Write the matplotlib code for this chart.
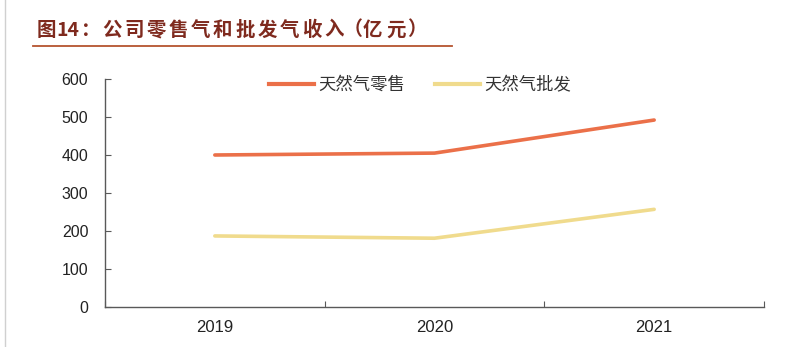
import matplotlib
matplotlib.use("Agg")
import matplotlib.pyplot as plt
from matplotlib.lines import Line2D

years = ["2019", "2020", "2021"]
retail = [400, 405, 492]
wholesale = [187, 181, 257]
series_names = ["天然气零售", "天然气批发"]
yticks = [0, 100, 200, 300, 400, 500, 600]
title = "图14：公司零售气和批发气收入（亿元）"

W, H = 801, 347
fig = plt.figure(figsize=(W / 100, H / 100), dpi=100)
plt.rcParams['font.family'] = ['Noto Sans CJK SC', 'DejaVu Sans']

left, right, top, bottom = 105, 764, 79, 307
ax = fig.add_axes([left / W, 1 - bottom / H, (right - left) / W, (bottom - top) / H])

x = [0.5, 1.5, 2.5]
ax.plot(x, retail, color="#EB7049", lw=2.6, solid_capstyle="round")
ax.plot(x, wholesale, color="#F0DB8D", lw=2.6, solid_capstyle="round")

ax.set_xlim(0, 3)
ax.set_ylim(0, 600)
ax.set_yticks(yticks)
ax.set_yticklabels([str(v) for v in yticks], family="Liberation Sans", fontsize=11.5, color="#222222")
ax.set_xticks([0, 1, 2, 3])
ax.set_xticklabels([])
ax.set_xticks(x, minor=True)
ax.set_xticklabels(years, minor=True, family="Liberation Sans", fontsize=12, color="#222222")
ax.tick_params(axis="x", which="minor", length=0, pad=9)
ax.tick_params(axis="x", which="major", direction="in", length=4, color="#595959")
ax.tick_params(axis="y", direction="in", length=4, color="#595959", pad=12)
for s in ["top", "right"]:
    ax.spines[s].set_visible(False)
for s in ["left", "bottom"]:
    ax.spines[s].set_color("#595959")
    ax.spines[s].set_linewidth(1.0)

handles = [Line2D([], [], color="#EB7049", lw=3), Line2D([], [], color="#F0DB8D", lw=3)]
leg = fig.legend(handles, series_names, loc="center left", bbox_to_anchor=(269 / W, 1 - 85 / H),
                 ncol=2, frameon=False, fontsize=12.5, handlelength=2.6, handletextpad=0.25,
                 columnspacing=1.7, borderpad=0, borderaxespad=0)
for t in leg.get_texts():
    t.set_color("#333333")

# title, placed piece by piece to reproduce its letter spacing
tstyle = dict(fontsize=14, fontweight="bold", color="#7F2A1E", va="center", ha="left")
ty = 1 - 30 / H
fig.text(37 / W, ty, title[0], **tstyle)              # 图
fig.text(56 / W, ty, title[1:3], **tstyle)            # 14
fig.text(81 / W, ty, title[3], **tstyle)              # ：
pitch = 22.2
x0 = 102
body = title[4:15]                                    # 公司零售气和批发气收入
for i, ch in enumerate(body[:-1]):
    fig.text((x0 + i * pitch) / W, ty, ch, **tstyle)
fig.text((x0 + 10 * pitch) / W, ty, body[-1] + title[15], **tstyle)   # 入（
fig.text(363 / W, ty, title[16], **tstyle)            # 亿
fig.text(386 / W, ty, title[17], **tstyle)            # 元
fig.text(407 / W, ty, title[18], **tstyle)            # ）

fig.add_artist(Line2D([33 / W, 452 / W], [1 - 46 / H, 1 - 46 / H], color="#B5542F", lw=1.3))
fig.add_artist(Line2D([5 / W, 5 / W], [0, 1], color="#D0D0D0", lw=1))

fig.savefig("out.png", dpi=100)
